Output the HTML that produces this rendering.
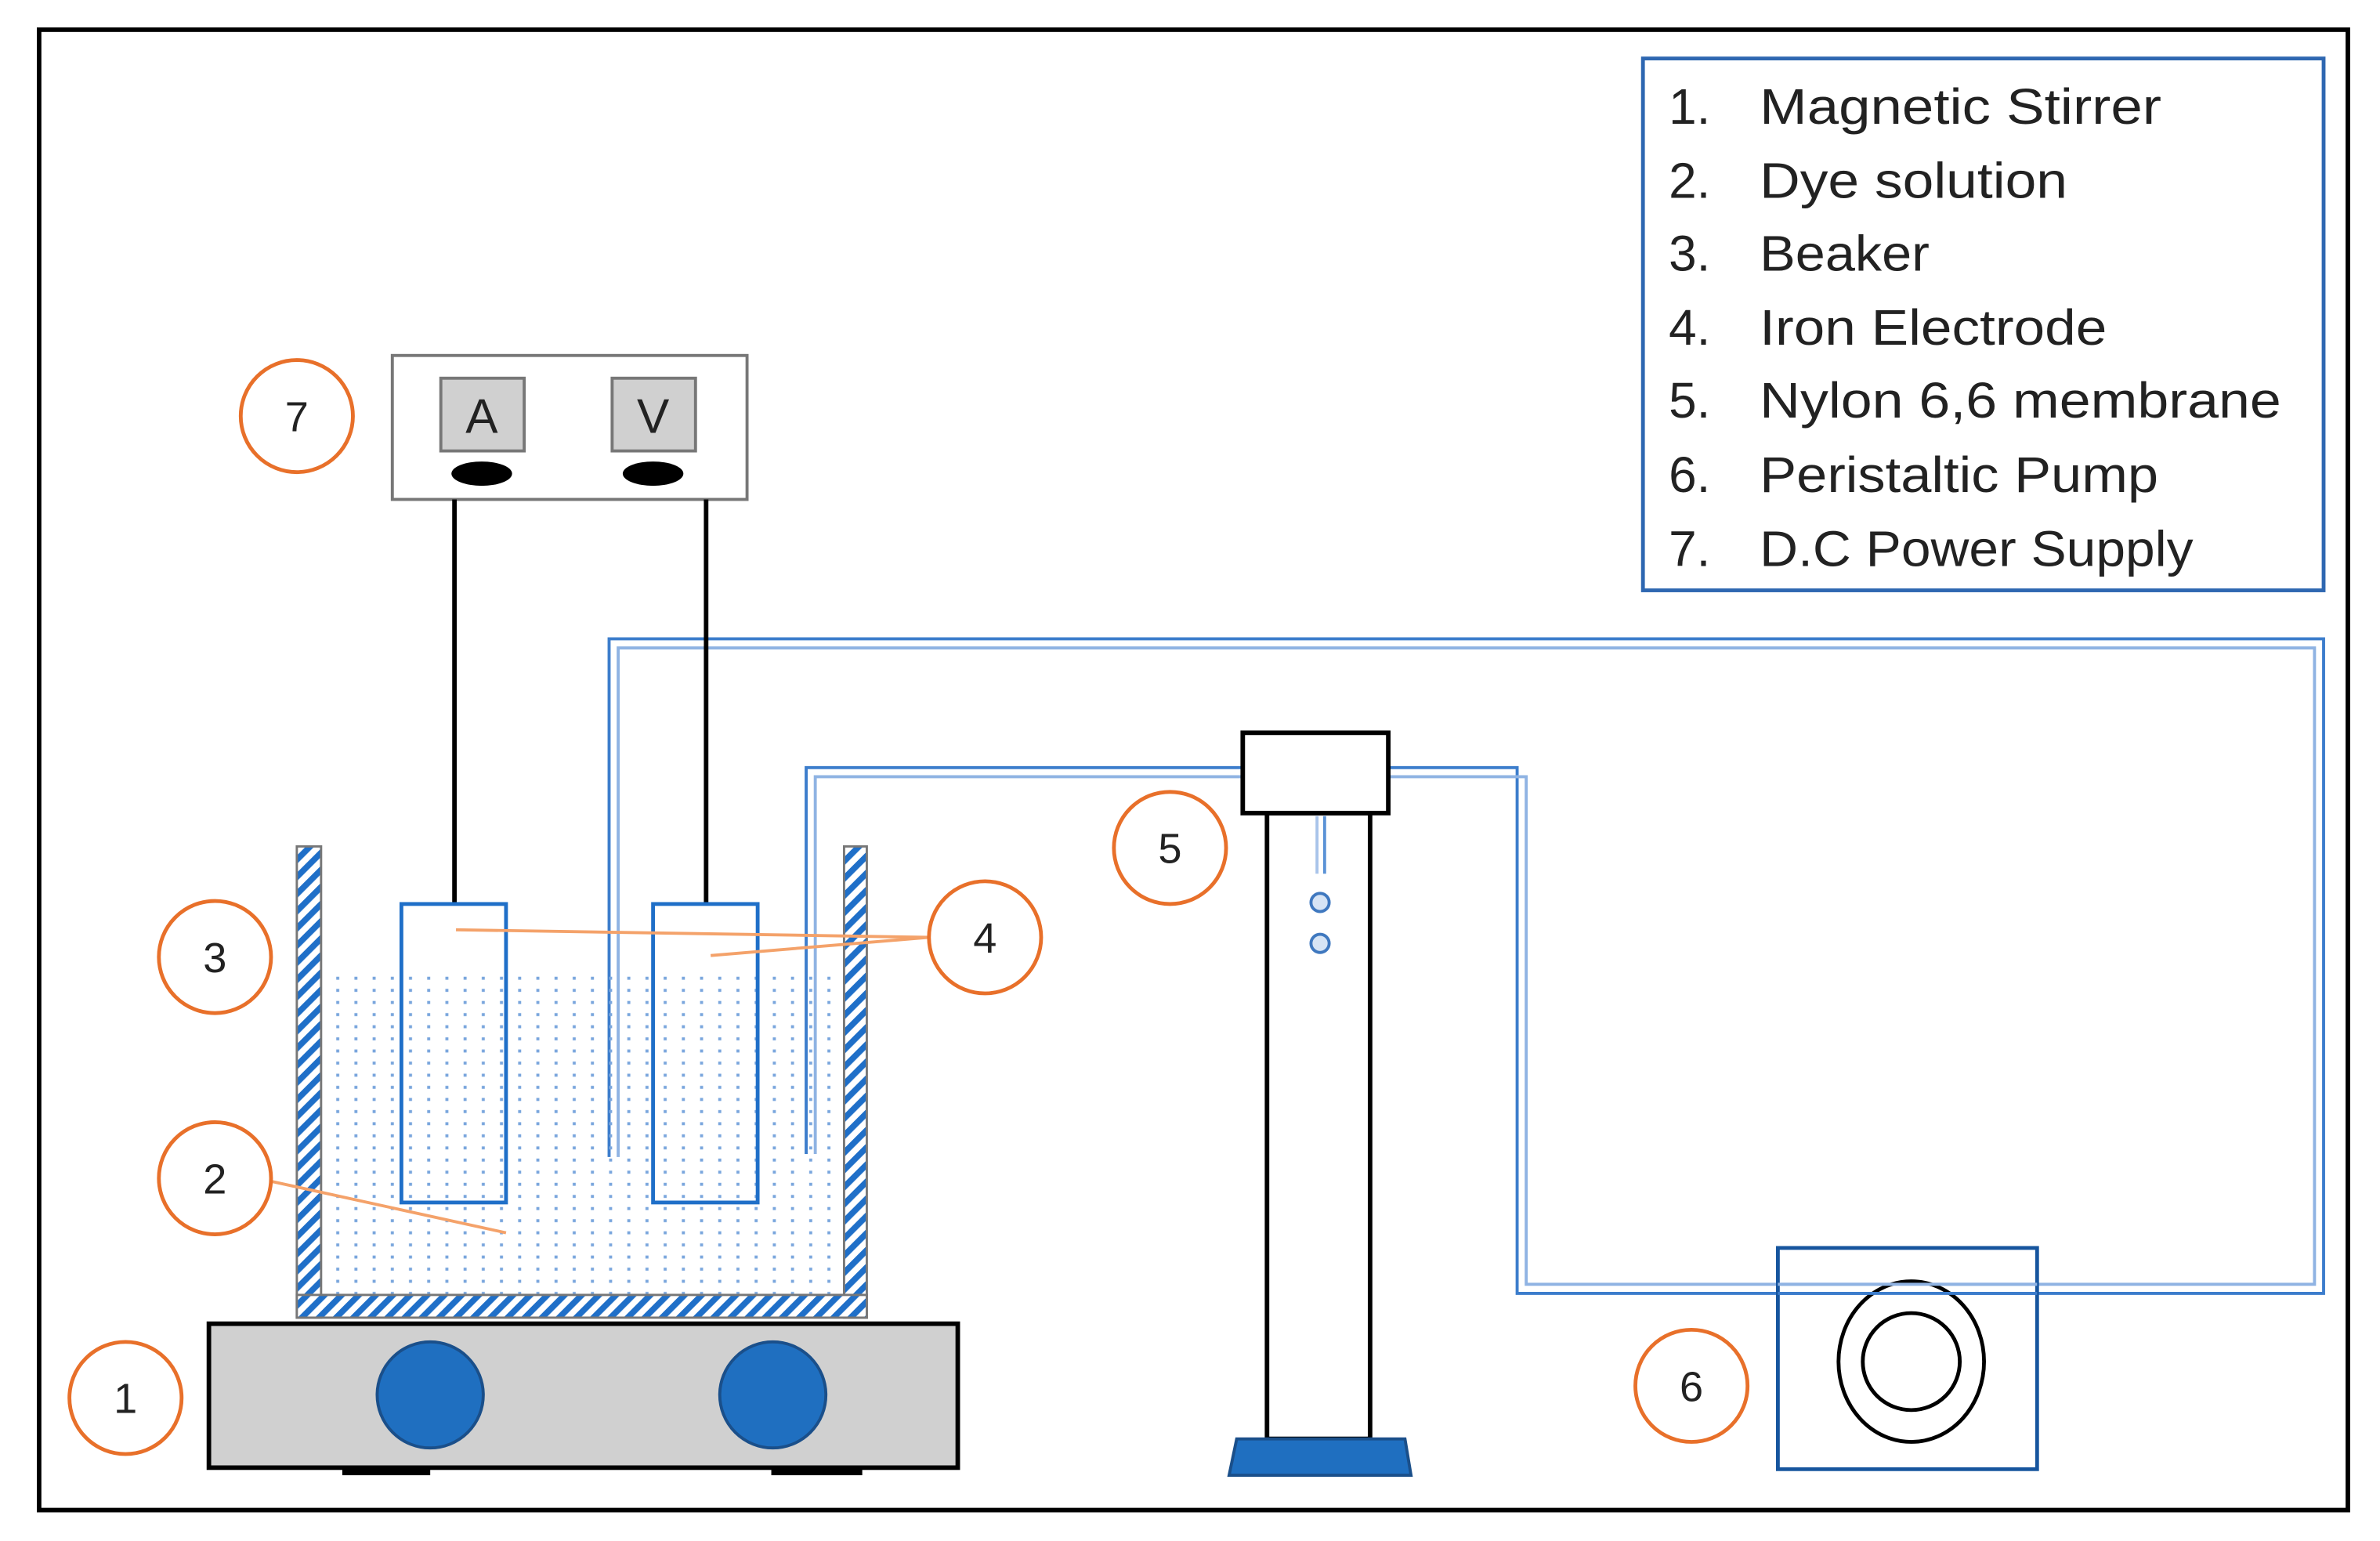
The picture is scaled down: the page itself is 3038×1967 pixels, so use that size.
<!DOCTYPE html>
<html><head><style>html,body{margin:0;padding:0;background:#fff}svg{display:block}</style></head>
<body>
<svg width="3038" height="1967" viewBox="-0.8 -1.6 1570 1017" preserveAspectRatio="none" xmlns="http://www.w3.org/2000/svg">
<defs>
<pattern id="hatch" width="8" height="8" patternUnits="userSpaceOnUse" patternTransform="rotate(45)">
<rect width="8" height="8" fill="#fff"/><rect width="4" height="8" fill="#1f6fc8"/>
</pattern>
<pattern id="dots" width="12" height="8" patternUnits="userSpaceOnUse">
<rect x="5" y="3" width="2" height="2" fill="#7aa6dd"/>
</pattern>
</defs>
<rect x="-10" y="-10" width="1600" height="1040" fill="#fff"/>
<rect x="25" y="18" width="1523" height="977" fill="none" stroke="#000" stroke-width="3"/>
<!-- legend -->
<rect x="1083" y="37" width="449" height="351" fill="none" stroke="#2e67b1" stroke-width="2.5"/>
<g font-family="Liberation Sans, sans-serif" font-size="33" fill="#222">
<text x="1100" y="80">1.</text><text x="1160" y="80" textLength="265" lengthAdjust="spacingAndGlyphs">Magnetic Stirrer</text>
<text x="1100" y="129">2.</text><text x="1160" y="129" textLength="203" lengthAdjust="spacingAndGlyphs">Dye solution</text>
<text x="1100" y="177">3.</text><text x="1160" y="177" textLength="112" lengthAdjust="spacingAndGlyphs">Beaker</text>
<text x="1100" y="226">4.</text><text x="1160" y="226" textLength="229" lengthAdjust="spacingAndGlyphs">Iron Electrode</text>
<text x="1100" y="274">5.</text><text x="1160" y="274" textLength="344" lengthAdjust="spacingAndGlyphs">Nylon 6,6 membrane</text>
<text x="1100" y="323">6.</text><text x="1160" y="323" textLength="263" lengthAdjust="spacingAndGlyphs">Peristaltic Pump</text>
<text x="1100" y="372">7.</text><text x="1160" y="372" textLength="286" lengthAdjust="spacingAndGlyphs">D.C Power Supply</text>
</g>
<!-- tubes -->
<g fill="none" stroke-width="2">
<polyline points="401,762 401,420 1532,420 1532,852 1000,852 1000,505 531,505 531,760" stroke="#3c7dcc"/>
<polyline points="407,762 407,426 1526,426 1526,846 1006,846 1006,511 537,511 537,760" stroke="#8fb3e3"/>
</g>
<!-- power supply -->
<rect x="258" y="233" width="234" height="95" fill="#fff" stroke="#777" stroke-width="2"/>
<rect x="290" y="248" width="55" height="48" fill="#d0d0d0" stroke="#777" stroke-width="2"/>
<rect x="403" y="248" width="55" height="48" fill="#d0d0d0" stroke="#777" stroke-width="2"/>
<g font-family="Liberation Sans, sans-serif" font-size="32" fill="#222" text-anchor="middle">
<text x="317" y="284">A</text><text x="430" y="284">V</text>
</g>
<ellipse cx="317" cy="311" rx="20" ry="8" fill="#000"/>
<ellipse cx="430" cy="311" rx="20" ry="8" fill="#000"/>
<line x1="299" y1="328" x2="299" y2="595" stroke="#000" stroke-width="3"/>
<line x1="465" y1="328" x2="465" y2="595" stroke="#000" stroke-width="3"/>
<!-- beaker -->
<rect x="211" y="640" width="345" height="213" fill="url(#dots)"/>
<rect x="195" y="557" width="16" height="311" fill="url(#hatch)" stroke="#777" stroke-width="1.5"/>
<rect x="556" y="557" width="15" height="311" fill="url(#hatch)" stroke="#777" stroke-width="1.5"/>
<rect x="195" y="853" width="376" height="15" fill="url(#hatch)" stroke="#777" stroke-width="1.5"/>
<rect x="264" y="595" width="69" height="197" fill="none" stroke="#1f6fc8" stroke-width="2.5"/>
<rect x="430" y="595" width="69" height="197" fill="none" stroke="#1f6fc8" stroke-width="2.5"/>
<!-- stirrer -->
<rect x="225" y="965" width="58" height="7" fill="#000"/>
<rect x="508" y="965" width="60" height="7" fill="#000"/>
<rect x="137" y="872" width="494" height="95" fill="#d0d0d0" stroke="#000" stroke-width="3"/>
<circle cx="283" cy="919" r="35" fill="#1f6fc0" stroke="#1a4f8a" stroke-width="2"/>
<circle cx="509" cy="919" r="35" fill="#1f6fc0" stroke="#1a4f8a" stroke-width="2"/>
<!-- column -->
<rect x="835" y="535" width="68" height="413" fill="#fff" stroke="#000" stroke-width="3"/>
<rect x="819" y="482" width="96" height="53" fill="#fff" stroke="#000" stroke-width="3"/>
<line x1="868" y1="537" x2="868" y2="575" stroke="#a9c4ea" stroke-width="2"/>
<line x1="873" y1="537" x2="873" y2="575" stroke="#5b92d6" stroke-width="2"/>
<circle cx="870" cy="594" r="6" fill="#d6e4f5" stroke="#3f78bf" stroke-width="2"/>
<circle cx="870" cy="621" r="6" fill="#d6e4f5" stroke="#3f78bf" stroke-width="2"/>
<polygon points="815,948 926,948 930,972 810,972" fill="#1f6fc0" stroke="#1a4f8a" stroke-width="2"/>
<!-- pump -->
<rect x="1172" y="822" width="171" height="146" fill="none" stroke="#16559e" stroke-width="2.5"/>
<ellipse cx="1260" cy="897" rx="48" ry="53" fill="#fff" stroke="#000" stroke-width="2.5"/>
<circle cx="1260" cy="897" r="32" fill="#fff" stroke="#000" stroke-width="2.5"/>
<line x1="1172" y1="846" x2="1343" y2="846" stroke="#8fb3e3" stroke-width="2"/>
<line x1="1172" y1="852" x2="1343" y2="852" stroke="#3c7dcc" stroke-width="2"/>
<!-- orange leaders -->
<g stroke="#f4a26a" stroke-width="2" fill="none">
<line x1="300" y1="612" x2="612" y2="617"/>
<line x1="468" y1="629" x2="612" y2="617"/>
<line x1="178" y1="778" x2="333" y2="812"/>
</g>
<!-- number circles -->
<g fill="#fff" stroke="#e8702a" stroke-width="2.5">
<circle cx="195" cy="273" r="37"/><circle cx="141" cy="630" r="37"/>
<circle cx="649" cy="617" r="37"/><circle cx="141" cy="776" r="37"/>
<circle cx="82" cy="921" r="37"/><circle cx="771" cy="558" r="37"/>
<circle cx="1115" cy="913" r="37"/>
</g>
<g font-family="Liberation Sans, sans-serif" font-size="28" fill="#222" text-anchor="middle">
<text x="195" y="283">7</text><text x="141" y="640">3</text><text x="649" y="627">4</text>
<text x="141" y="786">2</text><text x="82" y="931">1</text><text x="771" y="568">5</text>
<text x="1115" y="923">6</text>
</g>
</svg>
</body></html>
